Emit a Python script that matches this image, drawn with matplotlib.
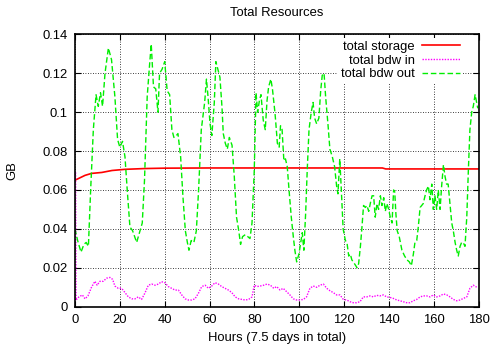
import matplotlib
matplotlib.use("Agg")
import matplotlib.pyplot as plt

plt.rcParams['font.family'] = ['Liberation Sans', 'DejaVu Sans']

# total storage (GB)
storage_h = [0, 1.8, 4.5, 7.4, 12, 16.5, 22.3, 31, 40, 60, 100, 137, 138.5, 160, 180]
storage_gb = [0.065, 0.066, 0.0675, 0.0685, 0.069, 0.070, 0.0706, 0.0710, 0.0712, 0.0713,
              0.0713, 0.0713, 0.0708, 0.0708, 0.0708]

# total bdw in (GB)
bdw_in_h = [0.3, 0.5, 1.8, 3.3, 4.5, 5.8, 7.4, 8.9, 9.9, 11.1, 12.6, 14.1, 15.6, 16.8, 17.8,
            19.3, 20.8, 22.3, 23.8, 25.3, 26.8, 28.2, 29.7, 31.2, 32.7, 34.2, 35.7, 37.2,
            38.6, 40.1, 41.6, 43.1, 44.6, 46.1, 47.6, 49.1, 50.5, 52, 53.5, 55, 56.5, 58,
            59.5, 61, 62.4, 63.9, 65.4, 66.9, 68.4, 69.9, 71.4, 72.9, 74.4, 75.9, 77.4,
            78.9, 79.9, 81.1, 82.6, 84.1, 85.6, 87.1, 88.6, 89.9, 91.4, 92.8, 94.3, 95.8,
            97.3, 98.8, 100.3, 101.8, 103.2, 104.7, 106.2, 107.7, 109.2, 110.7, 112.2,
            113.6, 115.1, 116.6, 118.1, 119.6, 121.1, 122.6, 124, 125.5, 127, 128.5, 130,
            131.5, 133, 134.4, 135.9, 137.4, 138.9, 140.4, 141.9, 143.4, 144.8, 146.3,
            147.8, 149.3, 150.8, 152.3, 153.8, 155.3, 156.7, 158.2, 159.7, 161.2, 162.7,
            164.2, 165.7, 167.1, 168.6, 170.1, 171.6, 173.1, 174.6, 176, 177.5, 179]
bdw_in_gb = [0.069, 0.0034, 0.005, 0.006, 0.004, 0.0055, 0.010, 0.013, 0.011, 0.013, 0.013,
             0.0146, 0.015, 0.014, 0.0106, 0.0094, 0.0094, 0.0072, 0.005, 0.004, 0.004,
             0.005, 0.0037, 0.007, 0.011, 0.0116, 0.011, 0.0116, 0.0128, 0.0123, 0.0103,
             0.0094, 0.0085, 0.0085, 0.006, 0.004, 0.0034, 0.0034, 0.004, 0.0068, 0.0103,
             0.011, 0.0094, 0.0106, 0.0123, 0.0116, 0.0103, 0.0094, 0.0085, 0.0072, 0.005,
             0.004, 0.0037, 0.0034, 0.0037, 0.005, 0.011, 0.0103, 0.0106, 0.011, 0.0116,
             0.011, 0.0094, 0.0103, 0.0085, 0.0094, 0.0077, 0.006, 0.004, 0.0034, 0.0034,
             0.0037, 0.005, 0.0094, 0.0106, 0.0099, 0.011, 0.0116, 0.0094, 0.0082, 0.0072,
             0.006, 0.006, 0.0037, 0.0034, 0.0025, 0.002, 0.002, 0.0025, 0.005, 0.005,
             0.0055, 0.005, 0.0058, 0.0055, 0.006, 0.005, 0.0047, 0.0042, 0.0034, 0.003,
             0.0025, 0.002, 0.002, 0.003, 0.0037, 0.005, 0.0055, 0.0055, 0.005, 0.006,
             0.005, 0.0055, 0.0065, 0.006, 0.005, 0.0037, 0.003, 0.0034, 0.0042, 0.005,
             0.0094, 0.011, 0.010]

# total bdw out (GB)
bdw_out_h = [0, 1.2, 2.7, 4, 5, 6, 7, 8.2, 9.4, 10.4, 11.4, 12.3, 13.4, 14.9, 16.3, 17.8,
             19, 20, 21.2, 22.3, 23.3, 24.5, 25.7, 27.5, 29, 30, 31, 32.2, 33.3, 34, 35,
             36, 37, 37.7, 38.8, 40, 41.1, 42.2, 43.2, 44.1, 45.2, 45.9, 47.1, 48.1, 49.2,
             50.1, 50.8, 51.8, 53, 54.1, 55.1, 56.3, 57.8, 58.6, 59.3, 60.2, 61, 62.1, 62.8,
             63.7, 64.6, 65.5, 66.1, 67, 67.9, 68.8, 70, 71, 72, 73, 73.8, 74.7, 75.9, 77,
             78, 78.9, 79.9, 80.7, 81.4, 82.2, 82.9, 83.9, 84.8, 85.6, 86.3, 87.3, 88, 89.1,
             89.4, 90.2, 91, 91.6, 92.3, 93.1, 93.8, 94.6, 95.4, 96.4, 97.3, 98, 98.8, 99.8,
             100.6, 101.3, 102, 102.8, 103.5, 104.3, 105.3, 106.1, 106.8, 107.7, 108.7,
             109.5, 110.2, 111, 111.7, 112.8, 113.6, 114.7, 115.7, 116.6, 117.2, 118, 118.7,
             119.5, 120.5, 121.2, 122, 122.7, 123.4, 124.6, 125.7, 126.4, 127.2, 127.9,
             128.6, 129.4, 130.1, 130.9, 131.6, 132.4, 133.1, 133.8, 134.6, 135.3, 136.1,
             136.8, 137.6, 138.3, 139, 139.8, 140.5, 141.3, 142, 142.5, 143, 143.6, 144.5,
             145.7, 146.9, 148, 149, 149.9, 150.8, 151.5, 152.3, 153, 153.8, 154.5, 155.2,
             156, 156.7, 157.5, 158.2, 159, 159.7, 160.4, 161.2, 161.9, 162.7, 163.4, 164.2,
             164.9, 165.6, 166.3, 167.1, 167.9, 168.6, 169.4, 170.1, 170.8, 171.6, 172.3,
             173, 173.8, 174.6, 175.3, 176, 176.8, 177.5, 178.3, 179, 179.5]
bdw_out_gb = [0.040, 0.034, 0.028, 0.032, 0.033, 0.031, 0.060, 0.091, 0.109, 0.103, 0.110,
              0.103, 0.120, 0.133, 0.127, 0.108, 0.086, 0.082, 0.085, 0.077, 0.060, 0.041,
              0.039, 0.033, 0.039, 0.043, 0.065, 0.108, 0.125, 0.135, 0.113, 0.112, 0.100,
              0.120, 0.122, 0.126, 0.111, 0.109, 0.091, 0.087, 0.088, 0.089, 0.077, 0.057,
              0.039, 0.033, 0.029, 0.034, 0.033, 0.039, 0.060, 0.091, 0.105, 0.117, 0.108,
              0.094, 0.088, 0.105, 0.126, 0.122, 0.118, 0.103, 0.089, 0.084, 0.081, 0.087,
              0.083, 0.067, 0.046, 0.039, 0.032, 0.036, 0.037, 0.036, 0.035, 0.043, 0.070,
              0.110, 0.100, 0.106, 0.109, 0.096, 0.091, 0.106, 0.113, 0.117, 0.112, 0.100,
              0.096, 0.084, 0.082, 0.093, 0.091, 0.075, 0.076, 0.072, 0.060, 0.046, 0.036,
              0.029, 0.023, 0.027, 0.033, 0.038, 0.029, 0.048, 0.070, 0.091, 0.100, 0.105,
              0.097, 0.094, 0.097, 0.111, 0.119, 0.120, 0.108, 0.093, 0.081, 0.077, 0.072,
              0.062, 0.058, 0.076, 0.060, 0.040, 0.034, 0.033, 0.026, 0.027, 0.024, 0.022,
              0.020, 0.022, 0.031, 0.041, 0.052, 0.051, 0.052, 0.049, 0.053, 0.057, 0.057,
              0.046, 0.053, 0.050, 0.057, 0.052, 0.056, 0.049, 0.053, 0.050, 0.046, 0.043,
              0.060, 0.059, 0.048, 0.039, 0.036, 0.029, 0.026, 0.024, 0.023, 0.021, 0.027,
              0.033, 0.034, 0.041, 0.051, 0.052, 0.053, 0.057, 0.060, 0.062, 0.055, 0.063,
              0.050, 0.057, 0.050, 0.060, 0.050, 0.062, 0.073, 0.067, 0.063, 0.063, 0.053,
              0.043, 0.039, 0.033, 0.029, 0.026, 0.031, 0.033, 0.033, 0.031, 0.046, 0.070,
              0.091, 0.100, 0.103, 0.109, 0.105, 0.102]

xticks = list(range(0, 181, 20))
yticks = [0, 0.02, 0.04, 0.06, 0.08, 0.1, 0.12, 0.14]
ytick_labels = ['0', '0.02', '0.04', '0.06', '0.08', '0.1', '0.12', '0.14']

fig = plt.figure(figsize=(4.93, 3.45), dpi=100)
ax = fig.add_axes([0.152, 0.1113, 0.8194, 0.789])

ax.plot(storage_h, storage_gb, color='#ff0000', lw=1.2, label='total storage')
ax.plot(bdw_in_h, bdw_in_gb, color='#ff00ff', lw=1.0, linestyle=(0, (1, 1)), label='total bdw in')
ax.plot(bdw_out_h, bdw_out_gb, color='#00ee00', lw=1.0, linestyle=(0, (4, 2)), label='total bdw out')

ax.set_xlim(0, 180)
ax.set_ylim(0, 0.14)
ax.set_xticks(xticks)
ax.set_yticks(yticks)
ax.set_yticklabels(ytick_labels)
ax.tick_params(direction='in', top=True, right=True, length=4, width=0.8,
               labelsize=9.4, pad=5)
ax.grid(True, color='black', linestyle=(0, (1, 2)), lw=0.6)
ax.set_axisbelow(True)
for s in ax.spines.values():
    s.set_linewidth(1.2)

ax.set_title('Total Resources', fontsize=9.4, pad=13)
ax.set_xlabel('Hours (7.5 days in total)', fontsize=9.4)
ax.set_ylabel('GB', fontsize=9.4)
ax.xaxis.set_label_coords(0.5, -0.093)
ax.yaxis.set_label_coords(-0.14, 0.5)

leg = ax.legend(loc='upper right', bbox_to_anchor=(0.97, 1.0), markerfirst=False,
                fontsize=9.4, frameon=True, fancybox=False, handlelength=2.9,
                labelspacing=0.12, borderaxespad=0.3, handletextpad=0.6, borderpad=0.2)
leg.get_frame().set_edgecolor('none')
leg.get_frame().set_facecolor('white')
leg.get_frame().set_alpha(1)
for t in leg.get_texts():
    t.set_ha('right')

fig.savefig('out.png', dpi=100)
